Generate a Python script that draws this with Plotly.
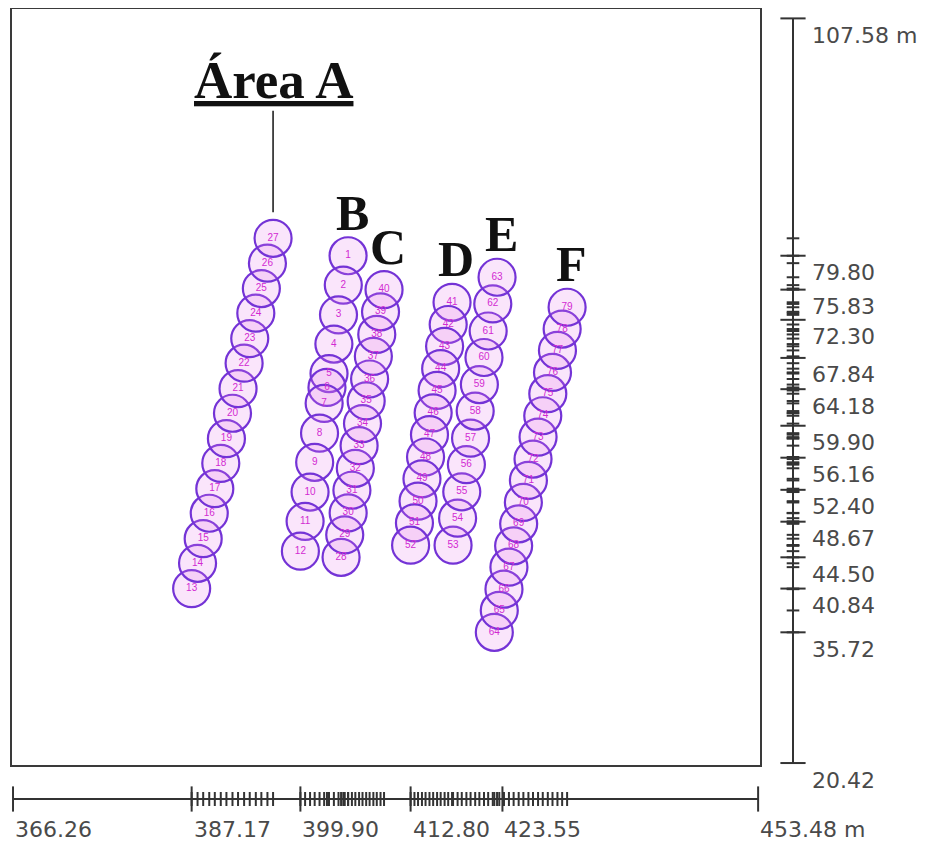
import plotly.graph_objects as go

# ---------------- data (metres) ----------------
area_names = ["Área A", "B", "C", "D", "E", "F"]

A_ids = [13, 14, 15, 16, 17, 18, 19, 20, 21, 22, 23, 24, 25, 26, 27]
A_x = [387.17, 387.86, 388.52, 389.23, 389.88, 390.58, 391.24, 391.95, 392.60, 393.31, 393.97, 394.68, 395.33, 396.04, 396.70]
A_y = [40.84, 43.80, 46.68, 49.66, 52.53, 55.50, 58.39, 61.36, 64.24, 67.22, 70.10, 73.08, 75.96, 78.93, 81.84]

B_ids = [1, 2, 3, 4, 5, 6, 7, 8, 9, 10, 11, 12]
B_x = [405.48, 404.92, 404.36, 403.82, 403.25, 403.01, 402.68, 402.14, 401.57, 401.03, 400.45, 399.90]
B_y = [79.80, 76.36, 72.88, 69.46, 66.01, 64.38, 62.52, 59.03, 55.62, 52.14, 48.71, 45.22]

C_ids = [28, 29, 30, 31, 32, 33, 34, 35, 36, 37, 38, 39, 40]
C_x = [404.66, 405.09, 405.49, 405.93, 406.33, 406.77, 407.17, 407.60, 408.00, 408.44, 408.84, 409.28, 409.69]
C_y = [44.50, 47.13, 49.70, 52.35, 54.92, 57.57, 60.15, 62.80, 65.37, 68.02, 70.59, 73.24, 75.83]

D_ids = [41, 42, 43, 44, 45, 46, 47, 48, 49, 50, 51, 52]
D_x = [417.65, 417.20, 416.78, 416.32, 415.90, 415.44, 415.01, 414.55, 414.13, 413.67, 413.25, 412.80]
D_y = [74.35, 71.75, 69.20, 66.58, 64.03, 61.41, 58.86, 56.24, 53.69, 51.07, 48.52, 45.92]

E_ids = [53, 54, 55, 56, 57, 58, 59, 60, 61, 62, 63]
E_x = [417.77, 418.30, 418.79, 419.33, 419.82, 420.36, 420.85, 421.39, 421.88, 422.42, 422.92]
E_y = [45.92, 49.08, 52.17, 55.35, 58.44, 61.62, 64.72, 67.89, 70.99, 74.16, 77.28]

F_ids = [64, 65, 66, 67, 68, 69, 70, 71, 72, 73, 74, 75, 76, 77, 78, 79]
F_x = [422.60, 423.18, 423.73, 424.31, 424.86, 425.45, 426.00, 426.59, 427.13, 427.72, 428.27, 428.86, 429.41, 429.99, 430.54, 431.12]
F_y = [35.72, 38.28, 40.77, 43.35, 45.85, 48.42, 50.92, 53.50, 56.00, 58.57, 61.07, 63.65, 66.14, 68.72, 71.22, 73.77]

# dimension (ruler) labels
x_ruler_labels = [366.26, 387.17, 399.90, 412.80, 423.55, 453.48]
y_ruler_labels = [107.58, 79.80, 75.83, 72.30, 67.84, 64.18, 59.90, 56.16, 52.40, 48.67, 44.50, 40.84, 35.72, 20.42]

# ---------------- figure ----------------
groups = [(area_names[0], A_ids, A_x, A_y), (area_names[1], B_ids, B_x, B_y),
          (area_names[2], C_ids, C_x, C_y), (area_names[3], D_ids, D_x, D_y),
          (area_names[4], E_ids, E_x, E_y), (area_names[5], F_ids, F_x, F_y)]

fig = go.Figure()

for name, ids, xs, ys in groups:
    fig.add_trace(go.Scatter(
        x=xs, y=ys, mode="markers+text", name=name,
        text=[str(i) for i in ids], textposition="middle center",
        textfont=dict(size=10, color="#d22ad2", family="Liberation Sans"),
        marker=dict(symbol="circle", size=37, color="rgba(228,125,236,0.20)",
                    line=dict(color="#7433d6", width=2.2)),
        hoverinfo="skip", showlegend=False, cliponaxis=False))

all_x = [v for g in groups for v in g[2]]
all_y = [v for g in groups for v in g[3]]
x_min, x_max = min(x_ruler_labels), max(x_ruler_labels)
y_min, y_max = min(y_ruler_labels), max(y_ruler_labels)

ruler_color = "#333333"
# right vertical ruler (x2 / y)
fig.add_trace(go.Scatter(x=[0, 0], y=[y_min, y_max], xaxis="x2", yaxis="y", mode="lines",
                         line=dict(color=ruler_color, width=2), hoverinfo="skip", showlegend=False))
fig.add_trace(go.Scatter(x=[0] * len(all_y), y=all_y, xaxis="x2", yaxis="y", mode="markers",
                         marker=dict(symbol="line-ew", size=9, line=dict(color=ruler_color, width=2)),
                         hoverinfo="skip", showlegend=False, cliponaxis=False))
fig.add_trace(go.Scatter(x=[0] * len(y_ruler_labels), y=y_ruler_labels, xaxis="x2", yaxis="y", mode="markers",
                         marker=dict(symbol="line-ew", size=18, line=dict(color=ruler_color, width=2)),
                         hoverinfo="skip", showlegend=False, cliponaxis=False))
# bottom horizontal ruler (x / y3)
fig.add_trace(go.Scatter(x=[x_min, x_max], y=[0, 0], xaxis="x", yaxis="y3", mode="lines",
                         line=dict(color=ruler_color, width=2), hoverinfo="skip", showlegend=False))
fig.add_trace(go.Scatter(x=all_x, y=[0] * len(all_x), xaxis="x", yaxis="y3", mode="markers",
                         marker=dict(symbol="line-ns", size=10, line=dict(color=ruler_color, width=2)),
                         hoverinfo="skip", showlegend=False, cliponaxis=False))
fig.add_trace(go.Scatter(x=x_ruler_labels, y=[0] * len(x_ruler_labels), xaxis="x", yaxis="y3", mode="markers",
                         marker=dict(symbol="line-ns", size=18, line=dict(color=ruler_color, width=2)),
                         hoverinfo="skip", showlegend=False, cliponaxis=False))

annotations = []
lab_font = dict(family="DejaVu Sans", size=22, color="#4a4a4a")
for v in y_ruler_labels:
    annotations.append(dict(xref="x2", yref="y", x=17, y=v, text=f"{v:.2f}" + (" m" if v == y_max else ""),
                            xanchor="left", yanchor="middle", yshift=-17, showarrow=False, font=lab_font))
for v in x_ruler_labels:
    annotations.append(dict(xref="x", yref="y3", x=v, y=-30, text=f"{v:.2f}" + (" m" if v == x_max else ""),
                            xanchor="left", yanchor="middle", showarrow=False, font=lab_font))

title_font = dict(family="Liberation Serif", size=50, color="#111111")
for k, (name, ids, xs, ys) in enumerate(groups):
    i = ys.index(max(ys))
    if k == 0:
        annotations.append(dict(xref="x", yref="y", x=xs[i], y=ys[i], text=f"<b><u>{name}</u></b>",
                                showarrow=True, arrowhead=0, arrowwidth=1.6, arrowcolor="#222222",
                                ax=0, ay=-158, standoff=26,
                                font=dict(family="Liberation Serif", size=53, color="#111111")))
    else:
        annotations.append(dict(xref="x", yref="y", x=xs[i], y=ys[i], text=f"<b>{name}</b>",
                                showarrow=False, yshift=43, xshift=4, font=title_font))

# the page places the figure 8 px in from the top-left corner
W, H = 918, 833
fig.update_layout(
    width=W, height=H, margin=dict(l=0, r=0, t=0, b=0),
    paper_bgcolor="white", plot_bgcolor="white", showlegend=False,
    xaxis=dict(domain=[4 / W, 752 / W], range=[366.14, 453.70], showgrid=False, zeroline=False,
               showticklabels=False, ticks="", showline=True, mirror=True, linecolor="#3a3a3a", linewidth=2),
    yaxis=dict(domain=[76 / H, 832 / H], range=[20.19, 108.68], showgrid=False, zeroline=False,
               showticklabels=False, ticks="", showline=True, mirror=True, linecolor="#3a3a3a", linewidth=2),
    xaxis2=dict(domain=[752 / W, 1], range=[-33, 133], anchor="y", visible=False),
    yaxis3=dict(domain=[0, 76 / H], range=[-42, 34], anchor="x", visible=False),
    annotations=annotations,
)

fig.write_html("out.html")
